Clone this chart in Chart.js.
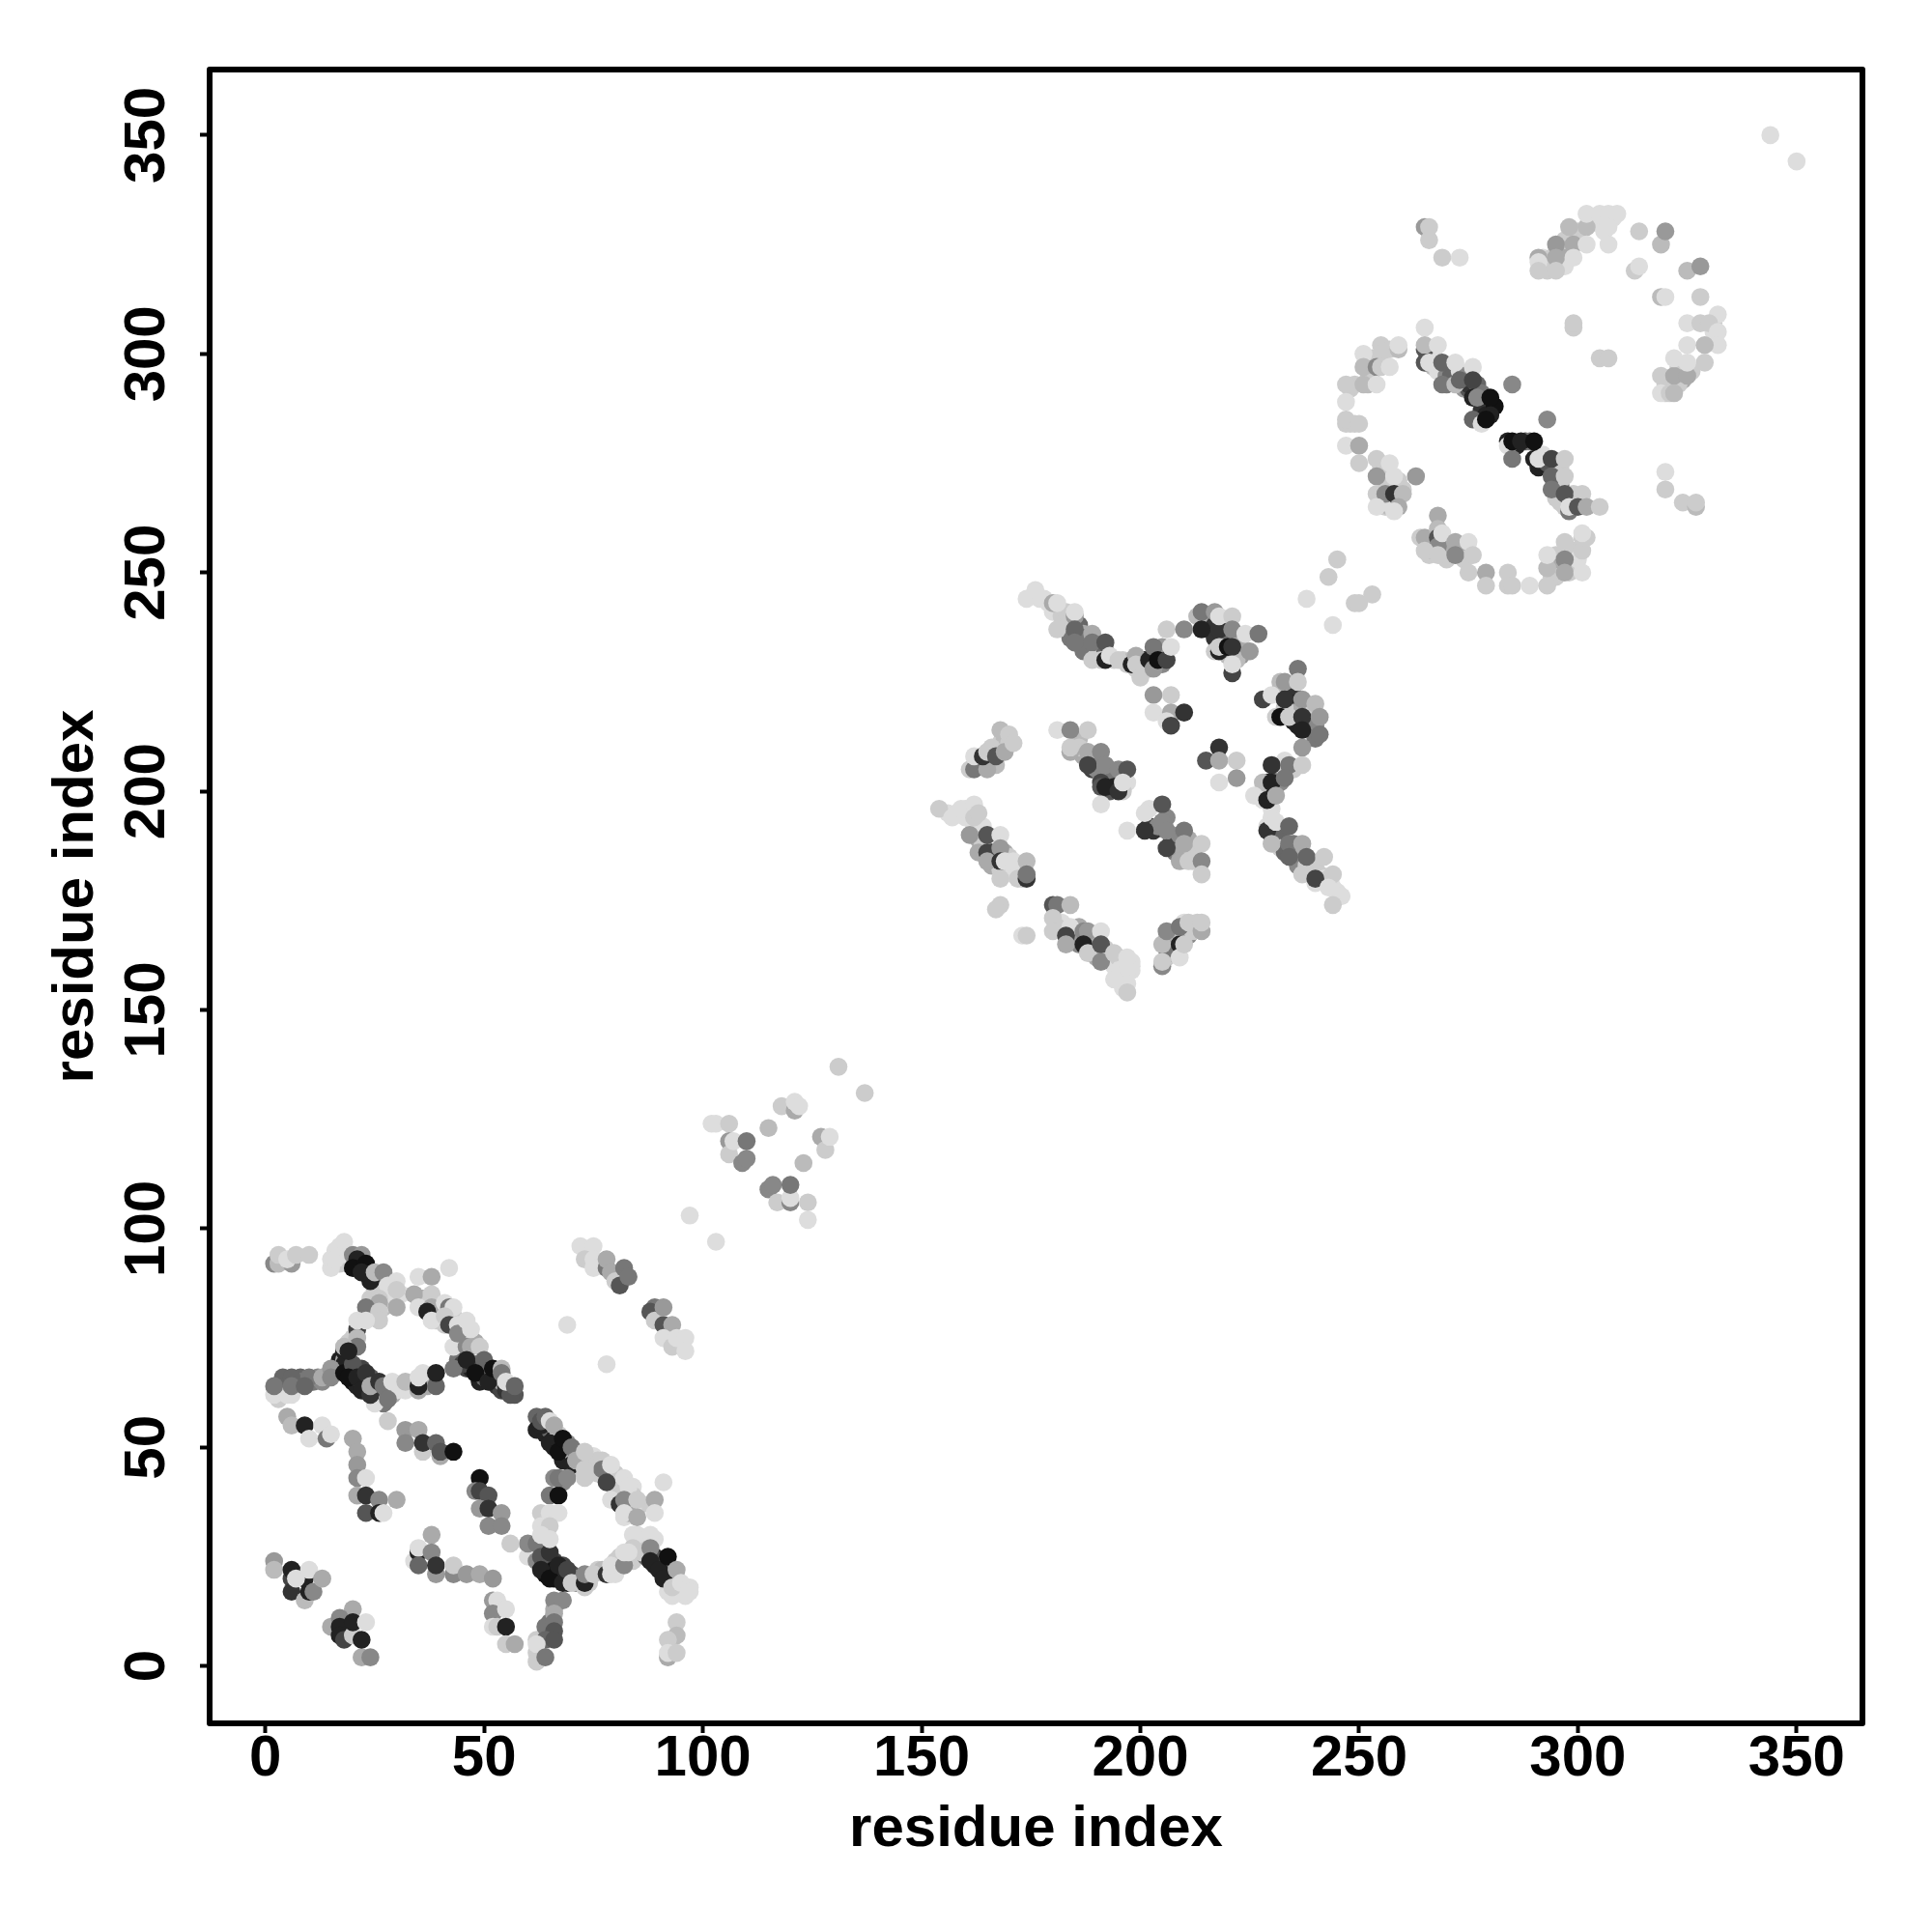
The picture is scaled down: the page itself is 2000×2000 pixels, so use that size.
<!DOCTYPE html>
<html>
<head>
<meta charset="utf-8">
<title>residue contacts</title>
<script src="https://cdn.jsdelivr.net/npm/chart.js@4"></script>
<style>
  html, body { margin: 0; padding: 0; background: #fff; }
  canvas { display: block; }
</style>
</head>
<body>
<canvas id="Chart" width="2000" height="2000"></canvas>
<script>
// residue pairs, one group of x / y / strength per clump.
// strength is 0 (palest) to 12 (darkest), draw order inside a clump is as listed
const tickValues = [0, 50, 100, 150, 200, 250, 300, 350];

const a1X = [2,2,6,6,6,9,10,9,11,7,10,13];
const a1Y = [24,22,20,22,17,15,17,20,17,20,22,20];
const a1S = [4,2,9,11,10,2,11,11,5,0,0,3];

const a2X = [15,20,17,17,17,18,20,20,22,24,22,23];
const a2Y = [9,13,11,9,7,6,7,10,2,2,6,10];
const a2S = [3,3,5,11,11,9,1,11,3,5,11,0];

const a3X = [2,3,3,6,5,7,10];
const a3Y = [92,92,94,92,93,94,94];
const a3S = [5,2,1,4,0,1,1];

const a4X = [15,16,17,18,19,20,22,21,20,23,24,22,25,27,30,28,30,26,26,30,23,26,26,21,21,23,21,21,18,19];
const a4Y = [93,93,96,97,94,94,94,93,91,92,88,90,90,90,88,87,86,84,83,82,82,81,79,77,79,79,75,73,73,72];
const a4S = [0,0,0,0,0,5,4,11,12,12,11,11,2,5,0,0,1,1,3,3,6,1,1,9,0,0,2,6,2,11];

const a5X = [35,38,42,34,35,38,38,37,38,41,42,43,41,42,44,44,46,47];
const a5Y = [89,89,91,85,82,85,82,81,79,83,82,82,80,78,78,76,79,77];
const a5S = [0,3,0,3,0,1,3,11,0,0,6,0,1,9,0,5,0,0];

const a6X = [43,46,47,49,43,46,50,48,51,52,54,54,55,56,55,57];
const a6Y = [73,73,73,73,68,70,70,67,65,68,68,67,63,62,65,64];
const a6S = [0,5,3,1,6,11,7,12,11,12,2,6,10,8,0,7];

const a7X = [2,5,2,6,6,10,9,13,15,15,18,20,19,21,23,22,25,24,24,26,27,28,29,32,32,35,35,35,39,39];
const a7Y = [62,62,64,66,64,66,64,66,68,66,67,69,66,66,67,63,60,62,64,65,64,61,65,63,65,63,64,66,64,67];
const a7S = [0,0,6,7,6,6,7,3,4,5,12,8,12,11,10,11,0,10,3,10,6,6,0,0,2,3,11,0,7,11];

const a8X = [5,6,9,13,10,14,15,28];
const a8Y = [57,55,55,55,52,52,53,56];
const a8S = [3,2,11,0,0,6,0,1];

const a9X = [20,21,21,21,23,21,23,26,30,23,26,27];
const a9Y = [52,49,46,43,43,39,39,38,38,35,35,35];
const a9S = [3,3,4,5,0,3,10,5,3,8,11,0];

const a10X = [32,35,32,36,36,39,40,40,43];
const a10Y = [54,54,51,49,51,51,48,49,49];
const a10S = [4,3,5,1,10,7,3,8,12];

const a11X = [49,48,49,51,49,51,54,51,54,56];
const a11Y = [43,40,40,39,36,36,35,32,32,28];
const a11S = [12,5,9,8,4,10,4,5,5,1];

const a12X = [63,63,64,65,65,66,67,68,70,70,67,69,71,73,73,73];
const a12Y = [55,56,57,51,56,55,49,52,46,50,43,43,47,49,45,43];
const a12S = [11,8,7,11,0,3,12,12,11,6,6,5,3,1,1,1];

const a13X = [77,77,78,79,79,82,83,81,82,85,89,91,89,82,85];
const a13Y = [47,45,42,46,38,43,41,37,38,38,38,42,35,35,34];
const a13S = [1,6,9,0,0,0,0,10,5,1,3,0,0,0,3];

const a14X = [65,67,65,63,65,67,63,65,63,65];
const a14Y = [39,39,34,35,35,35,32,32,30,29];
const a14S = [6,12,11,1,0,0,0,1,0,0];

const a15X = [60,60,62,62,63,63,65,65,67,68,69,70,73,73,73,75,78,79,79,82,82,83];
const a15Y = [25,28,28,24,25,22,20,26,23,19,22,19,18,19,21,21,21,21,23,23,26,26];
const a15S = [0,5,6,5,8,11,12,10,11,11,9,1,1,11,5,1,10,0,0,5,0,0];

const a16X = [84,85,88,84,86,88,88,90,91,92,94,93,93,95,97,97];
const a16Y = [30,30,30,27,26,27,24,22,20,25,22,16,18,19,18,17];
const a16S = [0,0,0,1,1,5,11,11,11,12,3,0,1,0,0,0];

const a17X = [66,68,66,64,66,66,64,66,62,62,64];
const a17Y = [15,15,12,9,10,8,6,6,5,1,2];
const a17S = [5,5,3,6,6,8,7,8,0,1,6];

const a18X = [52,53,52,55,52,53,55,55,57];
const a18Y = [15,15,12,13,9,9,9,5,5];
const a18S = [4,0,5,0,0,1,11,1,3];

const a19X = [34,35,35,38,38,35,39,39,43,43,46,49,52];
const a19Y = [24,26,27,30,26,23,21,23,21,23,21,21,20];
const a19S = [0,11,0,3,5,7,4,10,5,1,4,3,4];

const a20X = [94,94,92,92,92,94];
const a20Y = [10,7,6,2,3,3];
const a20S = [1,2,1,3,0,1];

const a21X = [72,75,73,75,75,78,78,79,80,81,82,83];
const a21Y = [96,96,93,93,91,91,93,90,88,87,91,89];
const a21S = [0,0,1,0,0,6,3,3,1,8,6,6];

const a22X = [89,88,89,91,91,93,91,93,94,96,96];
const a22Y = [82,81,79,78,82,78,75,73,75,75,72];
const a22S = [6,8,1,8,4,3,0,1,0,0,0];

const a23X = [69,78,97,103,102,103,106,106,106,107,109,110,110,115,118,121,121,122,123,127,128,129,131,137];
const a23Y = [78,69,103,97,124,124,124,120,117,120,115,116,120,123,128,127,129,128,115,121,118,121,137,131];
const a23S = [0,0,0,0,0,0,1,4,1,0,5,5,6,2,1,3,0,0,2,3,1,0,1,1];

const a24X = [115,116,117,120,120,120,124,124];
const a24Y = [109,110,106,106,107,110,106,102];
const a24S = [5,5,1,5,0,6,1,0];

const b1X = [174,176,178,180,181,185,185,181,185,185,189,189,192,189,191,192,193,195,198,199,199,200,202,203,203,204,206,206,207,210];
const b1Y = [244,246,244,243,243,240,241,237,237,234,236,234,234,230,230,230,231,230,229,231,229,226,230,228,233,230,230,237,233,237];
const b1S = [0,0,0,3,0,4,0,1,7,6,3,6,8,1,1,11,0,1,11,3,1,1,11,4,6,12,9,1,0,5];

const b2X = [213,214,214,217,218,218,221,221,218,218,220,221,224,225,227,221,221];
const b2Y = [240,241,237,241,237,240,240,237,232,233,233,233,236,232,236,227,229];
const b2S = [2,6,11,4,10,0,1,5,11,1,12,10,0,4,6,9,0];

const b3X = [203,207,203,207,210,206,207];
const b3Y = [222,222,218,218,218,216,215];
const b3S = [4,1,0,3,10,0,9];

const b4X = [236,232,233,236,228,230,233,237,240,232,234,237,241,237,241,237];
const b4Y = [228,225,225,225,221,222,221,221,220,217,217,217,217,214,213,210];
const b4S = [6,2,4,1,9,0,10,4,2,12,1,10,4,11,6,4];

const b5X = [218,215,218,222,218,222];
const b5Y = [210,207,207,207,202,203];
const b5S = [10,8,3,1,0,4];

const b6X = [233,230,234,237,228,230,233,226,229,231,229,230,231,234,230,234,234,237,238,242,237,240,244,243,246,244];
const b6Y = [207,206,206,206,202,202,203,199,198,199,191,194,193,192,188,188,185,188,185,185,181,180,181,178,176,174];
const b6S = [0,10,6,1,2,11,6,0,11,3,10,0,0,7,2,6,7,3,7,1,1,9,1,0,0,1];

const b7X = [181,184,188,184,184,188,191,188,192,195,197,191,192,195,196,191,197];
const b7Y = [214,214,214,209,210,209,209,206,206,205,205,201,201,200,202,197,191];
const b7S = [0,5,1,3,1,3,5,9,5,5,8,8,11,10,0,0,0];

const b8X = [161,162,165,162,164,165,167,169,168,170,171];
const b8Y = [205,205,205,208,208,209,208,209,214,213,211];
const b8S = [1,6,3,0,10,1,8,3,2,1,1];

const b9X = [154,157,159,162,162,163,161,165,168,163,165,168,165,168,169,171,174,168,172,174,174,168,167,173,174];
const b9Y = [196,194,196,197,194,195,190,190,190,186,186,187,184,184,184,184,184,180,180,180,181,174,173,167,167];
const b9S = [1,0,0,0,1,1,4,8,0,3,9,4,3,10,0,0,2,1,1,10,6,1,1,0,1];

const b10X = [201,201,205,205,206,210,206,210,214,209,211,214,214];
const b10Y = [191,195,197,193,191,191,187,188,188,184,184,184,181];
const b10S = [10,0,8,5,5,6,9,3,1,3,1,5,1];

const b11X = [180,181,184,180,180,184,183,183,187,188,187,188,191,191,191,194,197,197,194,197,197];
const b11Y = [174,174,174,171,168,169,167,165,168,168,165,163,168,165,161,163,162,159,157,156,154];
const b11S = [8,6,2,1,1,0,9,3,5,4,11,1,0,8,5,1,0,0,0,0,1];

const b12X = [205,205,205,209,209,206,209,210,211,214,214];
const b12Y = [160,161,165,165,162,168,169,165,170,168,170];
const b12S = [5,1,2,11,0,5,6,1,1,3,1];

const b13X = [238,244,243,245,249,250,253,344,350];
const b13Y = [244,238,249,253,243,243,245,350,344];
const b13S = [0,0,1,1,1,1,1,0,0];

const c1X = [265,266,266,269,273];
const c1Y = [329,329,326,322,322];
const c1S = [4,1,1,1,0];

const c2X = [291,291,291,295,295,295,298,299,299,302,302,302,305,307,309,307,307];
const c2Y = [322,321,319,325,322,319,329,325,322,329,325,332,332,332,332,329,325];
const c2S = [3,0,1,4,3,1,2,3,0,2,0,0,0,0,0,0,0];

const c3X = [314,319,320,313,314,325,328,319,320,328,299,299,305,307];
const c3Y = [328,325,328,319,320,319,320,313,313,313,306,307,299,299];
const c3S = [1,2,4,1,0,2,4,2,0,1,1,1,1,1];

const c4X = [332,325,328,330,332,332,325,329,329,319,322,325,322,325,319,321,322];
const c4Y = [309,307,307,307,305,302,302,302,298,295,295,295,299,298,291,291,291];
const c4S = [0,0,1,1,0,0,0,2,1,1,3,3,0,0,0,1,2];

const c5X = [259,259,255,251,251,254,255,257,247,251,254,247,247,247,250,247,250,250];
const c5Y = [301,302,300,300,297,297,297,297,293,293,293,289,284,285,284,279,279,275];
const c5S = [2,0,1,0,2,5,1,0,1,2,0,0,1,1,1,0,3,1];

const c6X = [254,257,254,258,263,254,256,258,260,254,259,258];
const c6Y = [276,275,272,272,272,268,268,268,268,265,265,264];
const c6S = [1,0,4,0,4,1,5,10,2,0,3,0];

const c7X = [265,265,265,268,265,266,269,272,269,272,273,276,276,276,277,285,280,280,276,278,279];
const c7Y = [306,301,302,302,298,298,298,298,293,293,294,297,294,290,290,293,290,286,285,284,285];
const c7S = [0,8,2,0,8,0,7,0,6,2,7,0,9,11,5,5,12,11,7,0,12];

const c8X = [284,285,285,287,293,290,291,290,294,297,294,297,294,297,301,298,298,300,302,305];
const c8Y = [279,276,280,280,285,276,276,280,276,276,272,272,269,268,268,264,265,265,265,265];
const c8S = [0,6,12,11,5,11,0,12,9,1,7,1,6,8,1,6,0,8,3,1];

const c9X = [320,320,324,327,327];
const c9Y = [273,269,266,265,266];
const c9S = [0,1,1,2,1];

const c10X = [268,264,265,268,268,268,269,272,275,265,268,272,276,275,279,279,284,284,285,289,293,293,293,297,297,297,301,301,301,301];
const c10Y = [263,258,258,260,258,256,259,257,257,255,254,254,254,250,250,247,250,247,247,247,247,251,254,257,253,250,255,250,258,259];
const c10S = [3,1,3,2,8,5,0,3,0,1,1,5,1,1,3,1,1,1,1,0,1,2,0,1,5,3,1,0,1,0];

// pairs mostly hidden behind the clumps above, they only show as edges and crescents
const f1X = [19,20,21,22,23,24,25,26,27,28,29,25,24,25,27,28,29,31,16,18,17,15,18];
const f1Y = [92,93,92,91,90,90,88,87,86,85,84,86,84,82,82,83,86,85,95,94,92,91,95];
const f1S = [12,5,5,12,11,3,5,6,1,1,1,1,1,1,2,0,0,0,0,1,1,0,0];

const f2X = [36,36,37,39,40,39,41,43,45,45,46,47,48,44,45,46,47,48,49,50,49,50,51,52,53,53,54,54,55,56,57,44,45];
const f2Y = [84,82,84,81,82,79,78,80,78,75,75,75,74,72,71,68,68,69,68,67,65,66,67,66,66,64,63,65,64,64,62,70,69];
const f2S = [3,1,1,2,1,1,1,1,1,7,2,0,3,1,5,9,11,6,9,11,11,7,6,3,5,10,9,3,9,7,8,6,9];

const f3X = [17,18,19,19,20,21,22,20,21,22,23,23,24,25,25,26,26,27,28,29,30,33,34,37,37,36,18,19,20,18];
const f3Y = [70,70,68,70,67,68,68,65,64,65,64,65,66,64,62,62,63,60,63,62,63,64,65,66,64,67,72,74,75,69];
const f3S = [11,3,12,9,12,8,9,12,11,9,11,8,8,7,8,6,5,6,6,3,0,1,1,1,3,0,11,1,1,11];

const f4X = [3,4,4,7,8,8,11,12,13,14,16,3,6];
const f4Y = [63,64,66,65,66,65,65,66,65,66,67,61,62];
const f4S = [1,6,7,7,7,6,6,5,5,5,4,1,0];

const f5X = [62,62,64,64,65,66,66,67,68,69,69,68,70,71,72,74,75,74,75,76,76,78,80,80,80,84,84,83,86,84,82,83,66,68];
const f5Y = [57,54,53,55,54,52,50,53,50,48,51,47,49,49,45,47,48,44,46,44,47,45,44,42,40,41,39,37,37,36,34,35,43,42];
const f5S = [7,11,11,8,7,11,11,1,7,11,5,11,3,1,1,1,0,1,1,1,1,1,1,1,1,0,1,3,1,0,0,3,5,5];

const f6X = [61,61,62,62,64,63,64,64,65,66,66,66,67,67,68,68,69,69,70,71,71,72,72,74,74,76,77];
const f6Y = [26,27,26,25,26,24,23,21,22,24,22,20,20,21,21,23,19,20,21,19,20,19,20,19,20,22,22];
const f6S = [5,5,1,6,8,9,11,12,11,9,12,12,12,11,10,9,11,9,8,5,3,2,6,1,1,1,2];

const f7X = [80,81,80,84,85,84,86,87,89,85,87,87,89,89,90,91,92,92,92,94,94,93,95,96,96,66,65,65,63,62,63,62];
const f7Y = [24,25,21,25,25,24,28,29,29,28,26,25,25,23,24,21,22,20,17,18,20,19,17,17,16,13,10,7,4,3,2,6];
const f7S = [1,1,0,0,1,1,0,0,0,1,1,7,10,11,8,11,5,3,0,0,2,1,0,1,0,3,6,8,0,1,1,1];

const g1X = [177,179,180,182,183,183,184,184,186,186,187,187,188,190,191,187,190,192,194,196,197,198,199,200,201,201,202,203,203,205,204,205,205];
const g1Y = [244,243,241,240,241,238,235,239,238,236,236,235,234,233,233,232,231,232,230,230,229,230,228,228,228,230,228,231,229,231,232,233,229];
const g1S = [0,0,0,1,1,1,6,1,7,6,3,6,6,7,8,6,1,7,1,1,1,2,1,1,1,11,1,7,5,9,6,4,5];

const g2X = [214,215,216,216,217,219,219,219,217,220,220,222,222,223,223,222,220,217,223];
const g2Y = [240,238,237,240,238,238,236,234,235,238,235,235,232,232,231,230,231,232,235];
const g2S = [4,11,11,3,10,10,10,1,10,1,7,7,10,5,4,2,2,1,3];

const g3X = [232,233,234,235,235,236,236,238,238,238,239,235,233,235,236,239,240,240,231];
const g3Y = [223,223,222,222,220,219,220,219,216,217,218,218,219,216,215,215,215,212,217];
const g3S = [10,3,10,10,11,10,12,2,10,10,1,3,1,11,11,4,5,6,1];

const g4X = [231,229,232,232,233,235,227,228,230,229,230,232,232,233,235,235,236,236,238,239,240,241,240,242,243,244,245];
const g4Y = [203,202,202,205,205,205,199,198,196,192,190,190,187,186,186,188,186,183,183,182,183,181,179,180,180,178,177];
const g4S = [6,11,5,6,1,1,1,0,0,0,3,7,1,7,7,6,3,5,1,1,1,1,0,0,1,0,0];

const g5X = [186,186,187,189,190,189,190,191,193,194,191,193,194,197,196,186,163,164,166,167,167,168,169,170,166];
const g5Y = [212,209,208,207,207,205,205,204,205,203,202,200,201,202,200,210,206,206,207,206,210,211,212,211,210];
const g5S = [2,3,3,5,5,9,5,5,5,6,9,8,11,0,1,1,1,2,3,2,2,1,2,1,1];

const g6X = [156,158,160,160,161,162,163,164,164,166,167,166,167,169,170,168,171,173];
const g6Y = [195,195,196,194,195,192,189,192,188,186,185,183,184,186,185,182,181,180];
const g6S = [0,0,0,0,0,0,3,0,1,10,3,3,3,3,1,1,0,1];

const g7X = [202,202,203,204,206,207,208,207,209,211,208,209,210,212,212];
const g7Y = [196,192,191,192,194,190,189,188,190,189,186,186,186,184,186];
const g7S = [0,9,10,5,5,5,5,9,5,3,6,4,3,1,1];

const g8X = [182,182,181,184,185,185,186,186,187,189,189,190,192,190,193,194,195,196,195,196,196,198,198,198];
const g8Y = [170,168,169,166,168,166,169,165,166,167,165,164,164,162,162,160,162,161,159,157,155,159,160,161];
const g8S = [0,0,1,5,1,5,3,5,4,4,3,1,1,3,1,0,1,0,0,0,0,0,0,0];

const g9X = [206,207,206,207,208,208,208,210,209,211,212,213,212,210,206];
const g9Y = [162,165,166,163,164,167,163,166,167,167,169,170,168,170,164];
const g9S = [1,3,5,3,1,3,2,0,2,5,1,1,1,0,6];

const h1X = [331,331,323,326,324,320,323,320,292,293,292,294,296,296,297,297,300,303,304,306,308,306,293];
const h1Y = [307,305,297,296,294,293,293,291,320,319,322,322,322,324,320,326,328,330,330,331,331,328,321];
const h1S = [1,0,1,1,3,1,1,1,0,1,0,1,3,3,0,1,1,0,0,0,0,0,1];

const h2X = [252,253,253,255,257,248,249,252,248,249,252,255,255,256,257,256,257,259,257,256,260,255];
const h2Y = [297,296,299,302,301,292,293,293,284,284,294,272,268,271,269,265,267,271,265,266,269,274];
const h2S = [3,3,1,1,1,1,1,2,1,1,1,2,1,1,1,1,0,1,2,0,1,1];

const h3X = [266,267,267,268,270,270,271,271,274,275,275,273,274,277,278,279,278,279,281,278];
const h3Y = [301,300,297,296,295,293,294,295,292,292,293,296,295,293,289,289,287,286,288,291];
const h3S = [1,0,2,0,5,6,6,7,4,8,10,0,5,7,4,12,10,11,12,6];

const h4X = [284,286,288,289,292,291,293,295,295,295,296,295,296,297,299,299,300,296,296];
const h4Y = [280,279,280,280,277,274,275,274,275,272,270,267,266,265,266,268,266,271,274];
const h4S = [11,11,8,6,0,11,8,8,7,6,6,1,1,1,6,1,1,1,1];

const h5X = [266,267,270,270,270,271,273,274,266,267,295,295,295,299,299,299,294,298,300,302];
const h5Y = [257,257,257,255,253,256,255,253,254,255,254,251,249,253,251,255,249,250,253,258];
const h5S = [3,9,1,2,1,3,3,1,1,3,1,3,1,1,3,1,1,1,0,1];

// the first dataset is painted last, so the hidden pairs go at the end of this list
const clumps = [
    [a1X,a1Y,a1S],[a2X,a2Y,a2S],[a3X,a3Y,a3S],[a4X,a4Y,a4S],[a5X,a5Y,a5S],[a6X,a6Y,a6S],
    [a7X,a7Y,a7S],[a8X,a8Y,a8S],[a9X,a9Y,a9S],[a10X,a10Y,a10S],[a11X,a11Y,a11S],[a12X,a12Y,a12S],
    [a13X,a13Y,a13S],[a14X,a14Y,a14S],[a15X,a15Y,a15S],[a16X,a16Y,a16S],[a17X,a17Y,a17S],[a18X,a18Y,a18S],
    [a19X,a19Y,a19S],[a20X,a20Y,a20S],[a21X,a21Y,a21S],[a22X,a22Y,a22S],[a23X,a23Y,a23S],[a24X,a24Y,a24S],
    [b1X,b1Y,b1S],[b2X,b2Y,b2S],[b3X,b3Y,b3S],[b4X,b4Y,b4S],[b5X,b5Y,b5S],[b6X,b6Y,b6S],[b7X,b7Y,b7S],
    [b8X,b8Y,b8S],[b9X,b9Y,b9S],[b10X,b10Y,b10S],[b11X,b11Y,b11S],[b12X,b12Y,b12S],[b13X,b13Y,b13S],
    [c1X,c1Y,c1S],[c2X,c2Y,c2S],[c3X,c3Y,c3S],[c4X,c4Y,c4S],[c5X,c5Y,c5S],[c6X,c6Y,c6S],[c7X,c7Y,c7S],
    [c8X,c8Y,c8S],[c9X,c9Y,c9S],[c10X,c10Y,c10S],
    [f1X,f1Y,f1S],[f2X,f2Y,f2S],[f3X,f3Y,f3S],[f4X,f4Y,f4S],[f5X,f5Y,f5S],[f6X,f6Y,f6S],[f7X,f7Y,f7S],
    [g1X,g1Y,g1S],[g2X,g2Y,g2S],[g3X,g3Y,g3S],[g4X,g4Y,g4S],[g5X,g5Y,g5S],[g6X,g6Y,g6S],[g7X,g7Y,g7S],
    [g8X,g8Y,g8S],[g9X,g9Y,g9S],
    [h1X,h1Y,h1S],[h2X,h2Y,h2S],[h3X,h3Y,h3S],[h4X,h4Y,h4S],[h5X,h5Y,h5S],
];

const strengthColor = (s) => {
    const g = 0xdd - s * 0x11;
    return `rgb(${g},${g},${g})`;
};

const datasets = clumps.map(([xs, ys, strengths]) => ({
    data: xs.map((x, i) => ({ x: x, y: ys[i] })),
    pointBackgroundColor: strengths.map(strengthColor),
    pointBorderWidth: 0,
    pointRadius: 9.3,
    showLine: false,
}));

// R style box round the plot
const plotBox = {
    id: 'plotBox',
    afterDraw(chart) {
        const { ctx, chartArea: a } = chart;
        ctx.save();
        ctx.strokeStyle = '#000';
        ctx.lineWidth = 6;
        ctx.lineJoin = 'round';
        ctx.strokeRect(a.left, a.top, a.right - a.left, a.bottom - a.top);
        ctx.restore();
    },
};

const tickFont = { family: '"Liberation Sans"', size: 60, weight: 'bold' };

const config = {
    type: 'scatter',
    data: { datasets: datasets },
    plugins: [plotBox],
    options: {
        responsive: false,
        animation: false,
        layout: { padding: { top: 72, right: 72, left: 0, bottom: 0 } },
        plugins: { legend: { display: false }, tooltip: { enabled: false } },
        scales: {
            x: {
                type: 'linear',
                min: -12.74,
                max: 365.05,
                afterFit: (scale) => { scale.height = 216; },
                afterBuildTicks: (scale) => { scale.ticks = tickValues.map((v) => ({ value: v })); },
                border: { display: false },
                grid: { drawOnChartArea: false, tickLength: 10, tickWidth: 4, tickColor: '#000' },
                ticks: { color: '#000', font: tickFont, padding: -9, maxRotation: 0, minRotation: 0, autoSkip: false },
                title: { display: true, text: 'residue index', color: '#000', font: tickFont, padding: { top: 0, bottom: 70 } },
            },
            y: {
                type: 'linear',
                min: -13.1,
                max: 365,
                afterFit: (scale) => { scale.width = 217; },
                afterBuildTicks: (scale) => { scale.ticks = tickValues.map((v) => ({ value: v })); },
                border: { display: false },
                grid: { drawOnChartArea: false, tickLength: 10, tickWidth: 4, tickColor: '#000' },
                ticks: { color: '#000', font: tickFont, padding: 3, minRotation: 90, maxRotation: 90, crossAlign: 'center', autoSkip: false },
                title: { display: true, text: 'residue index', color: '#000', font: tickFont, padding: { top: 43, bottom: 0 } },
            },
        },
    },
};

const ctx = document.getElementById('Chart').getContext('2d');
const myChart = new Chart(ctx, config);
</script>
</body>
</html>
